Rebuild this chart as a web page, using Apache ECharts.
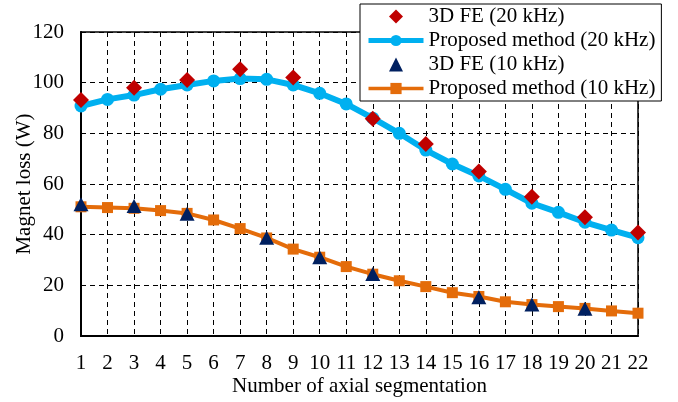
<!DOCTYPE html>
<html>
<head>
<meta charset="utf-8">
<script src="https://cdn.jsdelivr.net/npm/echarts@6/dist/echarts.min.js"></script>
<style>html,body{margin:0;padding:0;background:#fff}#c{width:678px;height:402px}</style>
</head>
<body>
<div id="c"></div>
<script>
const categories = ['1','2','3','4','5','6','7','8','9','10','11','12','13','14','15','16','17','18','19','20','21','22'];
const proposed20 = [90.8,93.4,95.1,97.4,99.1,100.7,101.6,101.3,99.1,95.8,91.6,86.0,80.0,73.4,67.9,63.2,57.9,52.4,48.8,44.9,41.8,38.8];
const proposed10 = [51.0,50.7,50.4,49.5,48.4,45.8,42.4,38.7,34.3,31.1,27.4,24.4,21.8,19.5,17.1,15.6,13.5,12.4,11.6,10.9,9.9,9.0];
const fe20X = ['1','3','5','7','9','12','14','16','18','20','22'];
const fe20Y = [93.2,98.0,101.1,105.3,102.0,85.8,75.8,64.9,55.0,46.9,40.9];
const fe10X = ['1','3','5','8','10','12','16','18','20'];
const fe10Y = [52.0,51.3,48.3,38.8,31.1,24.5,15.3,12.4,10.8];
const yTicks = [0,20,40,60,80,100,120];

const FONT = "'Liberation Serif', 'Times New Roman', serif";
const DIAMOND = 'path://M0,-1L1,0L0,1L-1,0Z';
const TRIANGLE = 'path://M0,-1L1,1L-1,1Z';
const chart = echarts.init(document.getElementById('c'));
chart.setOption({
  animation: false,
  backgroundColor: '#fff',
  textStyle: {fontFamily: FONT, color: '#000'},
  grid: {left: 81, right: 40, top: 32, bottom: 66, show: true, borderColor: '#000', borderWidth: 1.5,
         backgroundColor: 'transparent', containLabel: false, outerBoundsMode: 'none'},
  legend: {
    left: 360, top: 4, orient: 'vertical', align: 'left',
    backgroundColor: '#fff', borderColor: '#000', borderWidth: 1, borderRadius: 0,
    padding: [2, 6, 2, 6], itemGap: 3, itemWidth: 55, itemHeight: 14,
    symbolKeepAspect: true,
    textStyle: {fontFamily: FONT, fontSize: 21, color: '#000', padding: [0,0,0,0]},
    data: [
      {name: '3D FE (20 kHz)', icon: DIAMOND, itemStyle: {color: '#C00000'}},
      {name: 'Proposed method (20 kHz)', lineStyle: {width: 5}},
      {name: '3D FE (10 kHz)', icon: TRIANGLE, itemStyle: {color: '#002060'}},
      {name: 'Proposed method (10 kHz)', lineStyle: {width: 3.5}}
    ]
  },
  xAxis: {
    type: 'category', data: categories, boundaryGap: false,
    name: 'Number of axial segmentation', nameLocation: 'middle', nameGap: 40, nameMoveOverlap: false,
    nameTextStyle: {fontFamily: FONT, fontSize: 21, color: '#000'},
    axisLine: {lineStyle: {color: '#000', width: 2}},
    axisTick: {show: false},
    axisLabel: {fontFamily: FONT, fontSize: 21, color: '#000', margin: 17, interval: 0},
    splitLine: {show: true, lineStyle: {color: '#000', type: [5, 4], width: 1}}
  },
  yAxis: {
    type: 'value', min: 0, max: 120, interval: 20,
    name: 'Magnet loss (W)', nameLocation: 'middle', nameGap: 46, nameMoveOverlap: false,
    nameTextStyle: {fontFamily: FONT, fontSize: 21, color: '#000'},
    axisLine: {show: true, lineStyle: {color: '#000', width: 2}},
    axisTick: {show: false},
    axisLabel: {fontFamily: FONT, fontSize: 21, color: '#000', margin: 17,
      formatter: v => yTicks.includes(v) ? String(v) : ''},
    splitLine: {show: true, lineStyle: {color: '#000', type: [5, 4], width: 1}}
  },
  series: [
    {name: 'Proposed method (20 kHz)', type: 'line', data: proposed20, z: 2,
     symbol: 'circle', symbolSize: 13, showAllSymbol: true,
     lineStyle: {color: '#00B0F0', width: 6}, itemStyle: {color: '#00B0F0'}},
    {name: 'Proposed method (10 kHz)', type: 'line', data: proposed10, z: 2,
     symbol: 'rect', symbolSize: 11, showAllSymbol: true,
     lineStyle: {color: '#E46C0A', width: 4}, itemStyle: {color: '#E46C0A'}},
    {name: '3D FE (20 kHz)', type: 'scatter', z: 3,
     data: fe20X.map((x, i) => [x, fe20Y[i]]),
     symbol: 'diamond', symbolSize: [16, 16], itemStyle: {color: '#C00000', opacity: 1}},
    {name: '3D FE (10 kHz)', type: 'scatter', z: 3,
     data: fe10X.map((x, i) => [x, fe10Y[i]]),
     symbol: 'triangle', symbolSize: [15, 14], itemStyle: {color: '#002060', opacity: 1}}
  ]
});
</script>
</body>
</html>
